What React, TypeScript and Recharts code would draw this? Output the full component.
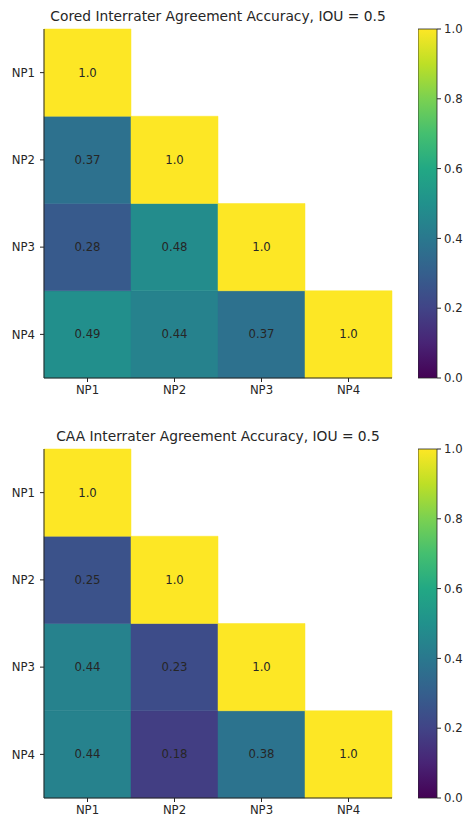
import React from "react";
import { Bar, BarChart, Cell, LabelList, XAxis, YAxis } from "recharts";

const labels = ["NP1", "NP2", "NP3", "NP4"];
// lower-triangle matrices, row i = labels[i], column j = labels[j]
const coredValues = [
  [1.0],
  [0.37, 1.0],
  [0.28, 0.48, 1.0],
  [0.49, 0.44, 0.37, 1.0],
];
const caaValues = [
  [1.0],
  [0.25, 1.0],
  [0.44, 0.23, 1.0],
  [0.44, 0.18, 0.38, 1.0],
];
const colorbarTicks = [0, 0.2, 0.4, 0.6, 0.8, 1.0];

const FONT = "'DejaVu Sans', sans-serif";
const INK = "#262626";
const TICK_SIZE = 11.7;

// viridis sampled every 0.1
const viridisStops = [
  "#440154", "#482475", "#414487", "#355f8d", "#2a788e", "#21918c",
  "#22a884", "#44bf70", "#7ad151", "#bddf26", "#fde725",
];

const hexToRgb = (h: string) => [
  parseInt(h.slice(1, 3), 16),
  parseInt(h.slice(3, 5), 16),
  parseInt(h.slice(5, 7), 16),
];

const viridis = (t: number) => {
  const p = Math.max(0, Math.min(1, t)) * 10;
  const i = Math.min(9, Math.floor(p));
  const f = p - i;
  const a = hexToRgb(viridisStops[i]);
  const b = hexToRgb(viridisStops[i + 1]);
  const c = a.map((v, k) => Math.round(v + (b[k] - v) * f));
  return `rgb(${c[0]},${c[1]},${c[2]})`;
};

const buildRows = (values: number[][]) =>
  labels.map((name, j) => {
    const row: any = { name };
    labels.forEach((_, i) => {
      const v = i >= j ? values[i][j] : null;
      row[`r${i}`] = v == null ? 0 : 1;
      row[`v${i}`] = v;
    });
    return row;
  });

const fmt = (v: number) => (v === 1 ? "1.0" : v.toFixed(2));

const CellLabel = (props: any) => {
  const { x, y, width, height, value } = props;
  if (value == null) return null;
  return (
    <text
      x={x + width / 2}
      y={y + height / 2}
      textAnchor="middle"
      dominantBaseline="central"
      fontSize={TICK_SIZE}
      fontFamily={FONT}
      fill={INK}
    >
      {fmt(value)}
    </text>
  );
};

const Heatmap = ({ title, values, top }: { title: string; values: number[][]; top: number }) => {
  const data = buildRows(values);
  // stack from the bottom row (NP4) upward
  const order = [3, 2, 1, 0];
  return (
    <div style={{ position: "absolute", left: 0, top, width: 468, height: 420 }}>
      <div
        style={{
          position: "absolute",
          left: 44,
          width: 348,
          top: 8,
          textAlign: "center",
          fontFamily: FONT,
          fontSize: 13.8,
          color: INK,
          whiteSpace: "nowrap",
        }}
      >
        {title}
      </div>
      <div style={{ position: "absolute", left: 0, top: 0 }}>
        <BarChart
          width={468}
          height={410}
          data={data}
          margin={{ top: 29, right: 76, bottom: 2, left: 0 }}
          barCategoryGap={0}
        >
          <XAxis
            dataKey="name"
            height={30}
            tickSize={4}
            tickMargin={4}
            axisLine={{ stroke: INK }}
            tickLine={{ stroke: INK }}
            tick={{ fontSize: TICK_SIZE, fontFamily: FONT, fill: INK }}
          />
          <YAxis
            type="number"
            domain={[0, 4]}
            ticks={[0.5, 1.5, 2.5, 3.5]}
            interval={0}
            width={44}
            tickSize={4}
            tickMargin={5}
            tickFormatter={(v: number) => labels[3 - Math.floor(v)]}
            axisLine={{ stroke: INK }}
            tickLine={{ stroke: INK }}
            tick={{ fontSize: TICK_SIZE, fontFamily: FONT, fill: INK }}
          />
          {order.map((i) => (
            <Bar key={i} dataKey={`r${i}`} stackId="m" isAnimationActive={false}>
              {data.map((_, j) => {
                const v = i >= j ? values[i][j] : 0;
                return <Cell key={j} fill={viridis(v)} stroke={viridis(v)} strokeWidth={0.5} />;
              })}
              <LabelList dataKey={`v${i}`} content={<CellLabel />} />
            </Bar>
          ))}
        </BarChart>
      </div>
      <div style={{ position: "absolute", left: 418, top: 19 }}>
        <BarChart
          width={50}
          height={369}
          data={[{ name: "cb", v: 1 }]}
          margin={{ top: 10, right: 0, bottom: 10, left: 0 }}
          barCategoryGap={0}
        >
          <defs>
            <linearGradient id={`viridis${top}`} x1="0" y1="0" x2="0" y2="1">
              {viridisStops
                .slice()
                .reverse()
                .map((c, k) => (
                  <stop key={k} offset={`${k * 10}%`} stopColor={c} />
                ))}
            </linearGradient>
          </defs>
          <XAxis dataKey="name" hide />
          <YAxis
            orientation="right"
            type="number"
            domain={[0, 1]}
            ticks={colorbarTicks}
            interval={0}
            width={31}
            tickSize={4}
            tickMargin={3}
            tickFormatter={(v: number) => v.toFixed(1)}
            axisLine={false}
            tickLine={{ stroke: INK }}
            tick={{ fontSize: TICK_SIZE, fontFamily: FONT, fill: INK, textAnchor: "start" }}
          />
          <Bar
            dataKey="v"
            fill={`url(#viridis${top})`}
            stroke={INK}
            strokeWidth={0.8}
            isAnimationActive={false}
          />
        </BarChart>
      </div>
    </div>
  );
}

export default function App() {
  return (
    <div style={{ position: "absolute", left: 0, top: 0, width: 468, height: 821, background: "#fff" }}>
      <Heatmap title="Cored Interrater Agreement Accuracy, IOU = 0.5" values={coredValues} top={0} />
      <Heatmap title="CAA Interrater Agreement Accuracy, IOU = 0.5" values={caaValues} top={420} />
    </div>
  );
}
